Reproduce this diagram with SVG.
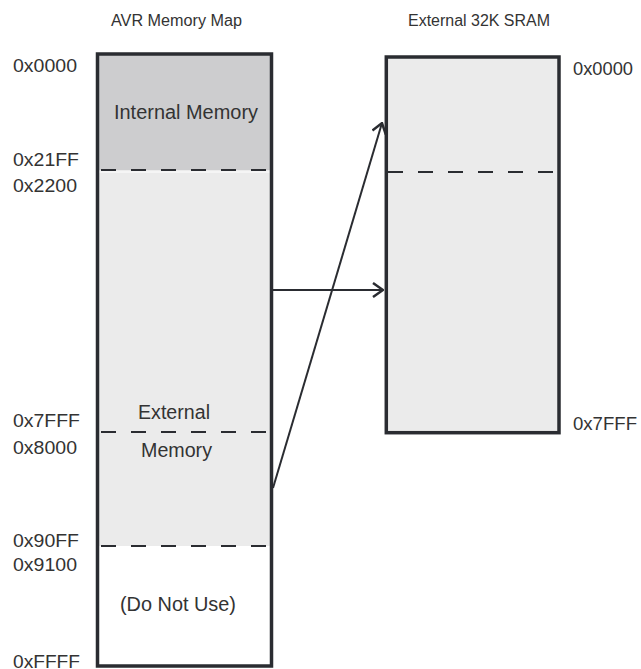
<svg xmlns="http://www.w3.org/2000/svg" width="641" height="669" viewBox="0 0 641 669">
  <style>
    .lbl { font-family: "Liberation Sans", Arial, sans-serif; fill: #333; }
    .hex { font-size: 19px; }
    .title { font-size: 16px; }
    .inner { font-size: 20px; }
    .box { stroke: #2a2c31; stroke-width: 3.5; fill: none; }
    .dash { stroke: #2a2c31; stroke-width: 2; stroke-dasharray: 15 15; fill: none; }
    .conn { stroke: #2a2c31; stroke-width: 2; fill: none; }
  </style>
  <defs>
    <marker id="arrow" viewBox="0 0 12 16" refX="11" refY="8" markerWidth="12" markerHeight="16" markerUnits="userSpaceOnUse" orient="auto">
      <path d="M1,1 L11,8 L1,15" fill="none" stroke="#2a2c31" stroke-width="2.5"/>
    </marker>
  </defs>
  <rect width="641" height="669" fill="#ffffff"/>

  <text class="lbl title" x="111" y="26" textLength="131" lengthAdjust="spacingAndGlyphs">AVR Memory Map</text>
  <text class="lbl title" x="408" y="26" textLength="142" lengthAdjust="spacingAndGlyphs">External 32K SRAM</text>

  <g id="avr-map">
    <rect x="97.5" y="54" width="174" height="116" fill="#cdcdcf"/>
    <rect x="97.5" y="170" width="174" height="376" fill="#ebebeb"/>
    <line x1="99" y1="172" x2="270" y2="172" stroke="#ffffff" stroke-width="1"/>
    <line class="dash" x1="101" y1="170" x2="270" y2="170"/>
    <line class="dash" x1="101" y1="432" x2="270" y2="432"/>
    <line class="dash" x1="101" y1="546" x2="270" y2="546"/>
    <rect class="box" x="97.5" y="54" width="174" height="612"/>
    <text class="lbl inner" x="114" y="119" textLength="144" lengthAdjust="spacingAndGlyphs">Internal Memory</text>
    <text class="lbl inner" x="138" y="419" textLength="72" lengthAdjust="spacingAndGlyphs">External</text>
    <text class="lbl inner" x="141" y="457" textLength="71" lengthAdjust="spacingAndGlyphs">Memory</text>
    <text class="lbl inner" x="120" y="611" textLength="116" lengthAdjust="spacingAndGlyphs">(Do Not Use)</text>
  </g>

  <g id="avr-addresses">
    <text class="lbl hex" x="13" y="72" textLength="64" lengthAdjust="spacingAndGlyphs">0x0000</text>
    <text class="lbl hex" x="13" y="166" textLength="66" lengthAdjust="spacingAndGlyphs">0x21FF</text>
    <text class="lbl hex" x="13" y="192" textLength="64" lengthAdjust="spacingAndGlyphs">0x2200</text>
    <text class="lbl hex" x="13" y="427" textLength="67" lengthAdjust="spacingAndGlyphs">0x7FFF</text>
    <text class="lbl hex" x="13" y="454" textLength="64" lengthAdjust="spacingAndGlyphs">0x8000</text>
    <text class="lbl hex" x="13" y="547" textLength="66" lengthAdjust="spacingAndGlyphs">0x90FF</text>
    <text class="lbl hex" x="13" y="571" textLength="64" lengthAdjust="spacingAndGlyphs">0x9100</text>
    <text class="lbl hex" x="13" y="668" textLength="67" lengthAdjust="spacingAndGlyphs">0xFFFF</text>
  </g>

  <g id="sram">
    <rect x="386.3" y="57" width="172.7" height="375.7" fill="#ebebeb"/>
    <line class="dash" x1="388" y1="172" x2="557" y2="172"/>
    <rect class="box" x="386.3" y="57" width="172.7" height="375.7"/>
    <text class="lbl hex" x="573" y="75" textLength="60" lengthAdjust="spacingAndGlyphs">0x0000</text>
    <text class="lbl hex" x="573" y="430" textLength="64" lengthAdjust="spacingAndGlyphs">0x7FFF</text>
  </g>

  <g id="connectors">
    <line class="conn" x1="273" y1="290" x2="383" y2="290" marker-end="url(#arrow)"/>
    <line class="conn" x1="273" y1="488" x2="382" y2="123" marker-end="url(#arrow)"/>
  </g>
</svg>
